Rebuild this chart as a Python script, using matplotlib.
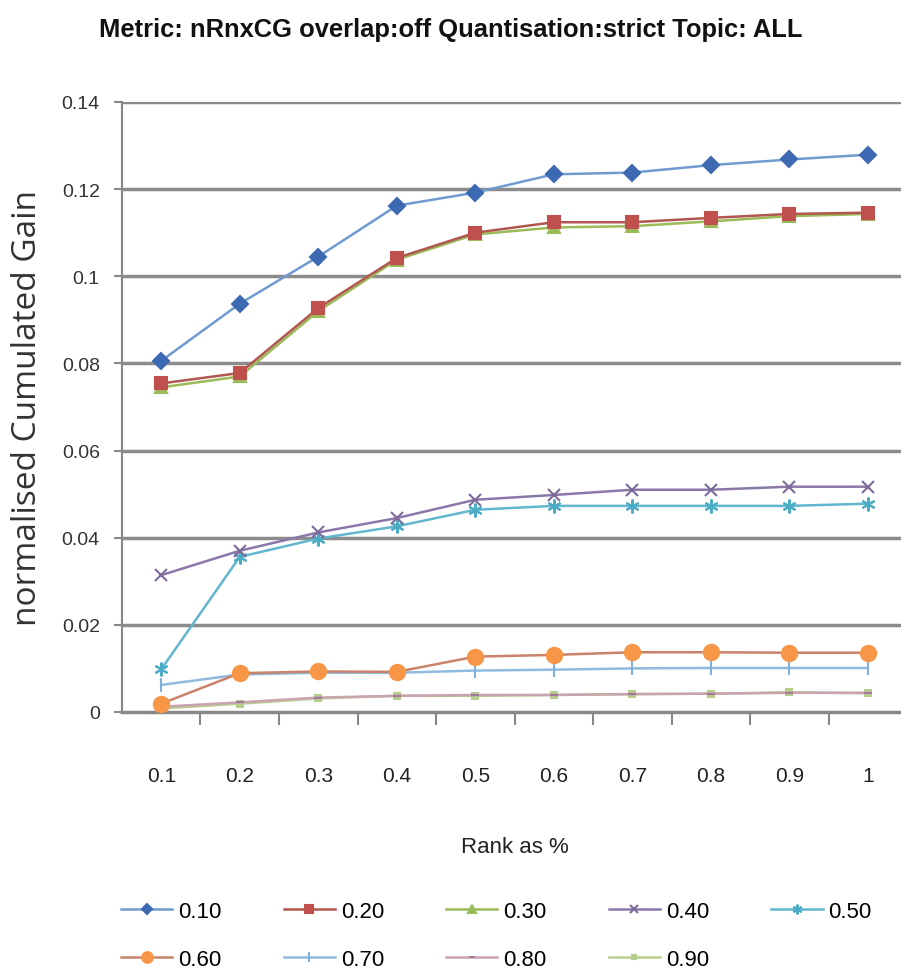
import matplotlib
matplotlib.use("Agg")
import matplotlib.pyplot as plt
import numpy as np

ranks = ["0.1", "0.2", "0.3", "0.4", "0.5", "0.6", "0.7", "0.8", "0.9", "1"]
series_names = ["0.10", "0.20", "0.30", "0.40", "0.50", "0.60", "0.70", "0.80", "0.90"]

s010 = [0.0806, 0.0937, 0.1045, 0.1162, 0.1192, 0.1234, 0.1238, 0.1255, 0.1268, 0.1279]
s020 = [0.0754, 0.0778, 0.0927, 0.1042, 0.1100, 0.1124, 0.1124, 0.1134, 0.1143, 0.1146]
s030 = [0.0745, 0.0770, 0.0920, 0.1038, 0.1096, 0.1112, 0.1115, 0.1126, 0.1138, 0.1143]
s040 = [0.0314, 0.0370, 0.0412, 0.0445, 0.0487, 0.0498, 0.0510, 0.0510, 0.0517, 0.0517]
s050 = [0.0098, 0.0356, 0.0398, 0.0426, 0.0464, 0.0473, 0.0473, 0.0473, 0.0473, 0.0478]
s060 = [0.0019, 0.0089, 0.0093, 0.0092, 0.0127, 0.0131, 0.0137, 0.0137, 0.0136, 0.0136]
s070 = [0.0062, 0.0086, 0.0090, 0.0090, 0.0095, 0.0097, 0.0100, 0.0101, 0.0101, 0.0101]
s080 = [0.0012, 0.0022, 0.0033, 0.0037, 0.0039, 0.0039, 0.0041, 0.0042, 0.0044, 0.0044]
s090 = [0.0008, 0.0019, 0.0031, 0.0037, 0.0037, 0.0039, 0.0041, 0.0042, 0.0045, 0.0043]

all_series = [s010, s020, s030, s040, s050, s060, s070, s080, s090]

line_colors = ["#6f9bd1", "#b0584f", "#9bbb59", "#8a78a8", "#62b6d0", "#c9836a", "#8fbbe0", "#c9a3b0", "#b9cf8f"]
marker_colors = ["#3d69b3", "#c0504d", "#9bbb59", "#7e6a9a", "#4bacc6", "#f79646", "#7fb1dc", "#a27a9c", "#b5cf8a"]
markers = ["D", "s", "^", "x", (6, 2, 0), "o", "|", "_", "s"]
msizes = [8, 8, 8, 9, 10, 11, 10, 6, 4]

plt.rcParams['font.family'] = ['Liberation Sans', 'DejaVu Sans']

fig = plt.figure(figsize=(9.01, 9.78), dpi=100)
ax = fig.add_axes([0.1354, 0.271, 0.8713, 0.6237])

x = np.arange(len(ranks))
lines = []
for i in range(len(all_series)):
    ln, = ax.plot(x, all_series[i], color=line_colors[i], lw=1.8, marker=markers[i],
                  markersize=msizes[i], markerfacecolor=marker_colors[i],
                  markeredgecolor=marker_colors[i], markeredgewidth=1.5,
                  label=series_names[i], zorder=3 + (9 - i) * 0.1)
    lines.append(ln)

ax.set_xlim(-0.5, 9.5)
ax.set_ylim(0, 0.14)
yt = [0, 0.02, 0.04, 0.06, 0.08, 0.1, 0.12, 0.14]
ax.set_yticks(yt)
ax.set_yticklabels(["0", "0.02", "0.04", "0.06", "0.08", "0.1", "0.12", "0.14"])
ax.set_xticks(x)
ax.set_xticklabels(ranks)
ax.set_xticks(np.arange(0.5, 9.5, 1), minor=True)
ax.tick_params(axis='x', which='major', length=0, pad=39, labelsize=15, colors='#222222')
ax.tick_params(axis='x', which='minor', length=9, width=1.5, color='#888888')
ax.tick_params(axis='y', length=6, width=1.5, color='#888888', labelsize=14, labelcolor='#333333', pad=10)

# excel style gridlines
for yv in yt[1:]:
    ax.axhline(yv, color='#8c8c8c', lw=2.5, zorder=1)

for s in ['top', 'right']:
    ax.spines[s].set_visible(False)
ax.spines['left'].set_color('#888888')
ax.spines['left'].set_linewidth(1.5)
ax.spines['bottom'].set_color('#888888')
ax.spines['bottom'].set_linewidth(2.5)

ax.set_ylabel("normalised Cumulated Gain", fontsize=24, family=['Open Sans', 'DejaVu Sans'],
              color='#333333', va='center')
ax.yaxis.set_label_coords(-0.12, 0.5)
ax.set_xlabel("Rank as %", fontsize=16, color='#222222', va='center')
ax.xaxis.set_label_coords(0.5, -0.221)

fig.text(0.5, 0.969, "Metric: nRnxCG overlap:off Quantisation:strict Topic: ALL",
         ha='center', va='center', fontsize=18.4, fontweight='bold', color='#111111')

# legend filled row by row (matplotlib fills by column)
order = [0, 5, 1, 6, 2, 7, 3, 8, 4]
leg = fig.legend([lines[k] for k in order], [series_names[k] for k in order],
                 ncol=5, loc='center left', bbox_to_anchor=(121 / 901, 1 - 936.5 / 978),
                 bbox_transform=fig.transFigure, frameon=False, fontsize=16,
                 handlelength=2.3, columnspacing=2.8, handletextpad=0.27,
                 labelspacing=1.2, borderpad=0, borderaxespad=0, markerscale=0.7)

fig.savefig("out.png", dpi=100)
